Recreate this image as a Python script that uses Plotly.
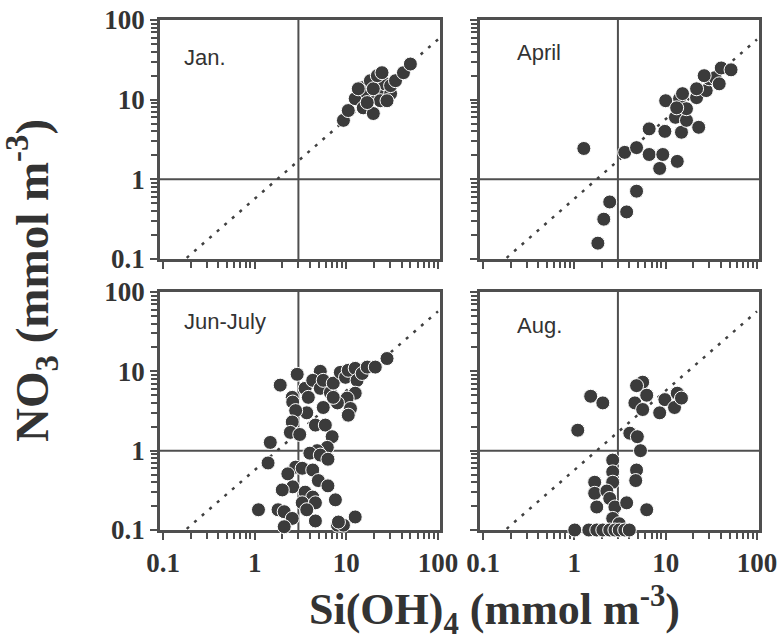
import plotly.graph_objects as go
from plotly.subplots import make_subplots

# ---------------- data ----------------
PANEL_NAMES = ["Jan.", "April", "Jun-July", "Aug."]

JAN_SI = [9.3, 10.5, 12.5, 15.3, 19.7, 14.9, 16.9, 18.3, 21.8, 24.5, 26.4, 30.4, 30.4,
          34.4, 42, 50, 19.7, 23.5, 27.8, 16.9, 21.8, 24.5, 13.5]
JAN_NO3 = [5.5, 7.3, 10.3, 7.9, 6.7, 14.1, 11.9, 17.3, 10.6, 13, 15.8, 11.9, 15,
           17.3, 21.8, 28, 13.7, 9.7, 9.7, 9.2, 20, 21.8, 13.7]

APR_SI = [1.27, 1.81, 2.1, 2.44, 3.74, 4.8, 3.56, 4.8, 6.6, 9.3, 8.6, 13.4, 6.6, 9.8,
          14.9, 12.8, 16.9, 23, 10, 14.2, 15.3, 21.8, 27.8, 21.8, 30, 34.8, 38.6,
          40.6, 52, 26.4, 16.9, 13.2]
APR_NO3 = [2.44, 0.158, 0.316, 0.52, 0.39, 0.71, 2.18, 2.5, 2.05, 2.05, 1.37, 1.68, 4.3,
           4.0, 3.9, 6.0, 5.5, 4.5, 9.7, 10.3, 11.9, 10.6, 13, 13.7, 18.3, 18.9, 15.8,
           25, 23.7, 20, 7.7, 7.9]

JUN_SI = [2.91, 1.9, 5.2, 2.57, 2.6, 3.55, 4.3, 3.85, 5.2, 5.6, 6.7, 7.2, 8.6, 9.8,
          10.5, 12.5, 13.1, 14.9, 16.9, 20.7, 27.8, 12.5, 10.2, 11.1, 10.5, 8.0, 7.2,
          5.6, 3.7, 2.8, 2.57, 4.6, 5.9, 2.45, 3.1, 7.0, 6.2, 4.8, 4.0, 5.2, 6.3,
          1.48, 1.4, 2.8, 3.3, 4.3, 2.3, 4.95, 6.3, 2.6, 2.0, 3.55, 4.3, 3.3, 4.6,
          7.6, 1.1, 1.8, 2.1, 2.57, 3.7, 4.6, 2.1, 8.0, 9.3, 12.5, 8.2]
JUN_NO3 = [9.17, 6.7, 10, 4.7, 4.1, 6.1, 7.7, 4.7, 6.1, 7.7, 5.4, 7.1, 9.7, 8.4,
           10.3, 10.9, 7.7, 9.4, 11.3, 11.3, 14.5, 5.3, 4.6, 3.4, 2.8, 4.0, 4.7,
           3.5, 3.0, 3.2, 2.3, 2.1, 2.1, 1.7, 1.6, 1.5, 1.1, 1.0, 0.93, 0.88, 0.78,
           1.27, 0.70, 0.62, 0.60, 0.57, 0.51, 0.42, 0.36, 0.35, 0.32, 0.30, 0.26, 0.22, 0.22,
           0.24, 0.18, 0.18, 0.17, 0.14, 0.18, 0.13, 0.11, 0.115, 0.115, 0.146, 0.126]

AUG_SI = [1.51, 2.05, 1.09, 5.6, 4.8, 6.2, 4.6, 5.6, 8.6, 9.8, 12.5, 13.4, 14.9,
          4.05, 4.9, 5.3, 2.63, 2.63, 4.8, 4.7, 1.67, 2.63, 1.67, 2.27, 2.44, 1.76,
          2.78, 3.74, 6.2, 2.63, 3.1, 1.01, 1.44, 1.76, 2.05, 2.44, 2.78, 3.1, 3.56, 4.0]
AUG_NO3 = [4.85, 4.0, 1.81, 7.3, 6.6, 5.0, 4.0, 3.3, 3.0, 4.4, 3.5, 5.3, 4.6,
           1.66, 1.5, 1.0, 0.76, 0.54, 0.57, 0.42, 0.40, 0.40, 0.29, 0.31, 0.25, 0.195,
           0.195, 0.22, 0.18, 0.14, 0.12, 0.1, 0.1, 0.1, 0.1, 0.1, 0.1, 0.1, 0.1, 0.1]

SI_THRESHOLD = 3.0     # vertical reference line (Si(OH)4)
NO3_THRESHOLD = 1.0    # horizontal reference line (NO3)
REF_LINE_SI = [0.15, 100.0]   # dotted line end points
REF_LINE_NO3 = [0.0855, 57.0]

AXIS_MIN, AXIS_MAX = 0.1, 100.0
TICK_VALS = [0.1, 1, 10, 100]
TICK_TEXT = ["0.1", "1", "10", "100"]
MINOR_TICKS = [m * d for d in (0.1, 1, 10) for m in range(2, 10)]

PANELS = [
    (JAN_SI, JAN_NO3),
    (APR_SI, APR_NO3),
    (JUN_SI, JUN_NO3),
    (AUG_SI, AUG_NO3),
]

# ---------------- styling ----------------
FRAME = "#4f4f4f"
DOT = "#3b3b3b"
TXT = "#333333"

fig = make_subplots(rows=2, cols=2)

for i, (si, no3) in enumerate(PANELS):
    r, c = i // 2 + 1, i % 2 + 1
    # threshold lines
    fig.add_trace(go.Scatter(x=[SI_THRESHOLD, SI_THRESHOLD], y=[AXIS_MIN, AXIS_MAX],
                             mode="lines", line=dict(color=FRAME, width=2),
                             hoverinfo="skip"), row=r, col=c)
    fig.add_trace(go.Scatter(x=[AXIS_MIN * 0.9, AXIS_MAX * 1.1], y=[NO3_THRESHOLD, NO3_THRESHOLD],
                             mode="lines", line=dict(color=FRAME, width=2),
                             hoverinfo="skip"), row=r, col=c)
    # dotted reference line
    fig.add_trace(go.Scatter(x=REF_LINE_SI, y=REF_LINE_NO3, mode="lines",
                             line=dict(color="#404040", width=2.5, dash="3px,7px"),
                             hoverinfo="skip"), row=r, col=c)
    # data
    fig.add_trace(go.Scatter(x=si, y=no3, mode="markers", cliponaxis=False,
                             marker=dict(size=14, color=DOT,
                                         line=dict(color="white", width=1))),
                  row=r, col=c)

X_DOM = {1: [160 / 780, 440 / 780], 2: [480 / 780, 759 / 780]}
Y_DOM = {1: [1 - 259 / 640, 1 - 20 / 640], 2: [1 - 530 / 640, 1 - 292 / 640]}
RANGE = [-1.033, 2.022]

common = dict(type="log", showline=True, linewidth=2.5, linecolor=FRAME, mirror=True,
              ticks="outside", ticklen=7, tickwidth=2, tickcolor=FRAME,
              showgrid=False, zeroline=False, layer="below traces", automargin=False,
              tickvals=TICK_VALS, ticktext=TICK_TEXT,
              tickfont=dict(family="Liberation Serif", size=27, color=TXT, weight="bold"),
              minor=dict(ticks="outside", ticklen=6, tickwidth=2, tickcolor=FRAME,
                         tickvals=MINOR_TICKS, showgrid=False))

for r in (1, 2):
    for c in (1, 2):
        fig.update_xaxes(common, domain=X_DOM[c], range=RANGE,
                         showticklabels=(r == 2), row=r, col=c)
        fig.update_yaxes(common, domain=Y_DOM[r], range=[-1, 2],
                         showticklabels=(c == 1), row=r, col=c)

annotations = []
label_pos = [(182, 57), (515, 52), (182, 321), (515, 325)]
for name, (px, py) in zip(PANEL_NAMES, label_pos):
    annotations.append(dict(text=name, x=px / 780, y=1 - py / 640, xref="paper", yref="paper",
                            xanchor="left", yanchor="middle", showarrow=False,
                            font=dict(family="Liberation Sans", size=22, color=TXT)))

annotations.append(dict(text="Si(OH)<sub>4</sub> (mmol m<sup>-3</sup>)",
                        x=494 / 780, y=1 - 610 / 640, xref="paper", yref="paper",
                        xanchor="center", yanchor="middle", showarrow=False,
                        font=dict(family="Liberation Serif", size=44, color=TXT, weight="bold")))
annotations.append(dict(text="NO<sub>3</sub> (mmol m<sup>-3</sup>)",
                        x=32 / 780, y=1 - 281 / 640, xref="paper", yref="paper",
                        xanchor="center", yanchor="middle", showarrow=False, textangle=-90,
                        font=dict(family="Liberation Serif", size=47, color=TXT, weight="bold")))

fig.update_layout(width=780, height=640, margin=dict(l=0, r=0, t=0, b=0),
                  template="none",
                  plot_bgcolor="white", paper_bgcolor="white", showlegend=False,
                  annotations=annotations)

fig.write_html("out.html", config={"displayModeBar": False},
               post_script="document.body.style.margin='0px';")
